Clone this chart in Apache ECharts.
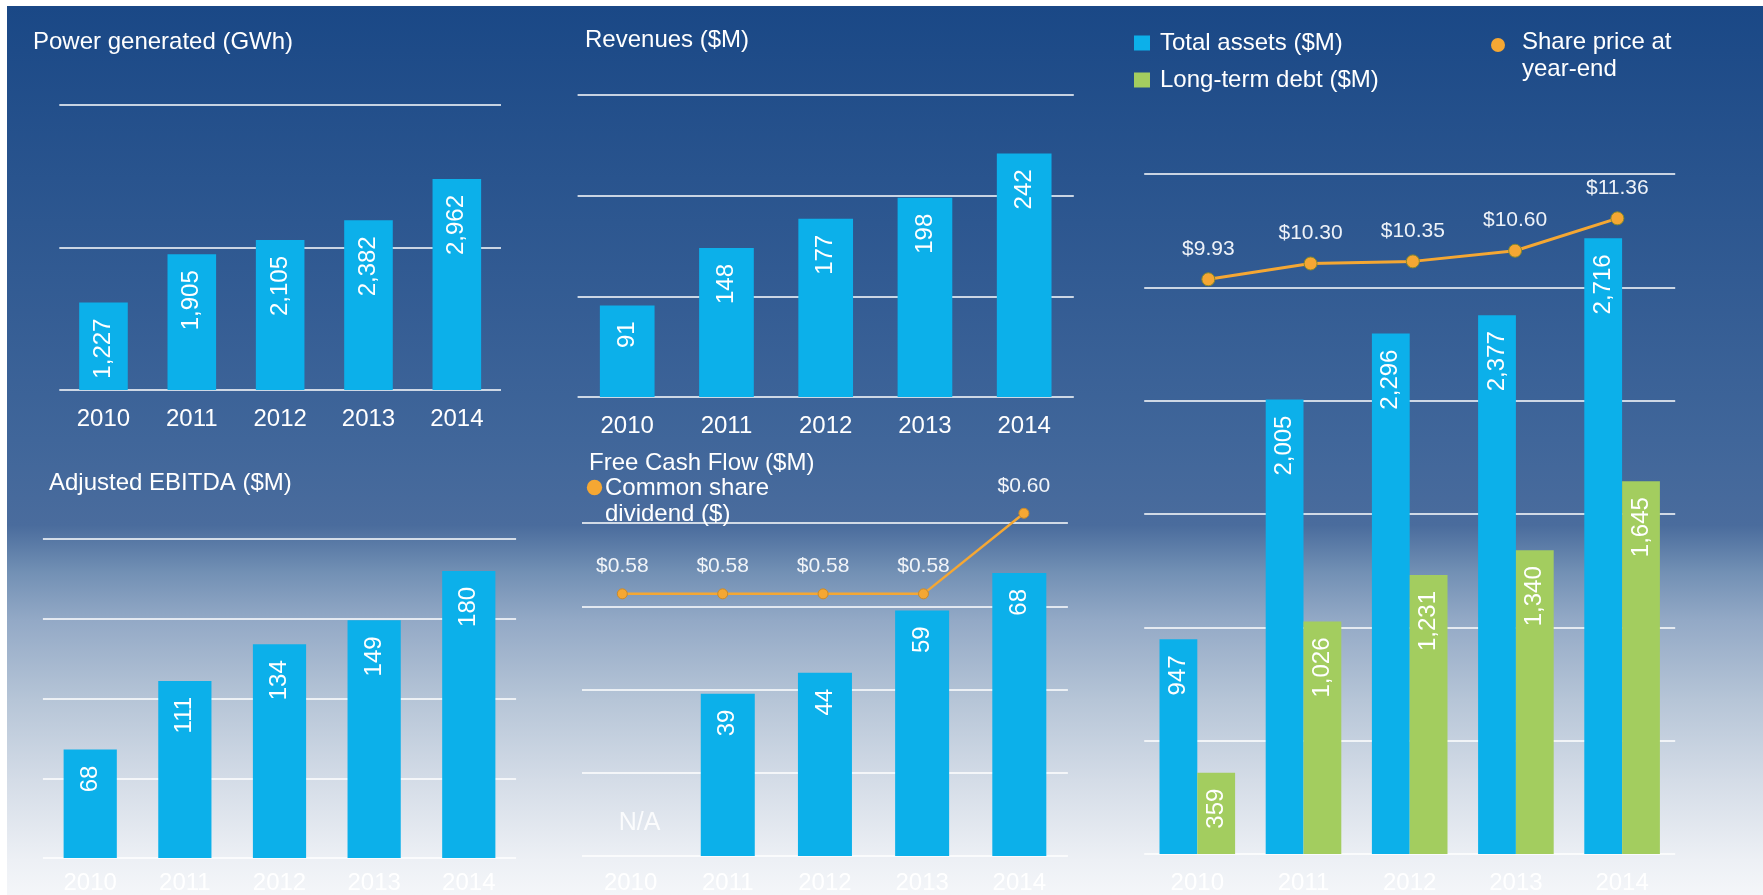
<!DOCTYPE html>
<html>
<head>
<meta charset="utf-8">
<title>Financial highlights 2010-2014</title>
<script src="https://cdn.jsdelivr.net/npm/echarts@6/dist/echarts.min.js"></script>
<style>
  html, body { margin: 0; padding: 0; background: #fff; }
  #main { width: 1763px; height: 895px; }
</style>
</head>
<body>
<div id="main"></div>
<script>
// data
const years = ['2010', '2011', '2012', '2013', '2014']
const powerGwh = [1227, 1905, 2105, 2382, 2962]
const revenues = [91, 148, 177, 198, 242]
const ebitda = [68, 111, 134, 149, 180]
const freeCashFlow = [null, 39, 44, 59, 68]   // 2010 = N/A
const dividend = [0.58, 0.58, 0.58, 0.58, 0.60]
const totalAssets = [947, 2005, 2296, 2377, 2716]
const longTermDebt = [359, 1026, 1231, 1340, 1645]
const sharePrice = [9.93, 10.30, 10.35, 10.60, 11.36]

const FONT = '"Liberation Sans", Arial, sans-serif'
const BLUE = '#0cb0ea'
const GREEN = '#a3cd5f'
const ORANGE = '#f5a733'
const GRIDLINE = 'rgba(255,255,255,0.75)'

const fmt = v => v.toLocaleString('en-US')

// rotated white label inside the top of a bar
function barLabel() {
  return {
    show: true,
    position: 'insideTop',
    rotate: 90,
    align: 'right',
    verticalAlign: 'middle',
    distance: 16,
    color: '#fff',
    fontSize: 24,
    fontFamily: FONT,
    formatter: p => fmt(p.value)
  }
}

function yearAxis(gridIndex, margin) {
  return {
    type: 'category', gridIndex: gridIndex, data: years,
    axisLine: { show: false }, axisTick: { show: false },
    axisLabel: { color: '#fff', fontSize: 24, fontFamily: FONT, margin: margin }
  }
}

function hiddenCat(gridIndex) {
  return { type: 'category', gridIndex: gridIndex, data: years, show: false }
}

function valueAxis(gridIndex, max, interval) {
  return {
    type: 'value', gridIndex: gridIndex, min: 0, max: max, interval: interval,
    axisLabel: { show: false }, axisLine: { show: false }, axisTick: { show: false },
    splitLine: { show: true, lineStyle: { color: GRIDLINE, width: 2 } }
  }
}

function hiddenValue(gridIndex, min, max) {
  return { type: 'value', gridIndex: gridIndex, min: min, max: max, show: false, splitLine: { show: false } }
}

const titleStyle = { color: '#fff', fontSize: 24, fontWeight: 'normal', fontFamily: FONT }

const fcfData = freeCashFlow.map(v => v === null
  ? { value: 0, label: { show: true, formatter: 'N/A', rotate: 0, position: 'top', align: 'center',
      verticalAlign: 'bottom', distance: 20, offset: [9, 0], fontSize: 25, color: 'rgba(255,255,255,0.85)' } }
  : v)

const option = {
  animation: false,
  textStyle: { fontFamily: FONT },
  title: [
    { text: 'Power generated (GWh)', left: 33, top: 30, padding: 0, textStyle: titleStyle },
    { text: 'Revenues ($M)', left: 585, top: 28, padding: 0, textStyle: titleStyle },
    { text: 'Adjusted EBITDA ($M)', left: 49, top: 471, padding: 0, textStyle: titleStyle },
    { text: 'Free Cash Flow ($M)', left: 589, top: 451, padding: 0, textStyle: titleStyle }
  ],
  legend: {
    data: ['Total assets ($M)', 'Long-term debt ($M)'],
    orient: 'vertical', left: 1134, top: 31, padding: 0,
    icon: 'rect', itemWidth: 16, itemHeight: 15, itemGap: 13,
    textStyle: { color: '#fff', fontSize: 24, fontFamily: FONT, padding: [0, 0, 0, 5] }
  },
  graphic: [
    {
      type: 'rect', z: -10, silent: true,
      shape: { x: 7, y: 6, width: 1756, height: 889 },
      style: {
        fill: new echarts.graphic.LinearGradient(0, 0, 0, 1, [
          { offset: 0, color: '#1a4886' },
          { offset: 0.488, color: '#40669a' },
          { offset: 0.584, color: '#4a6c9d' },
          { offset: 0.638, color: '#7391b5' },
          { offset: 0.691, color: '#93a9c6' },
          { offset: 0.781, color: '#b6c5d7' },
          { offset: 0.871, color: '#d4dce7' },
          { offset: 0.961, color: '#edf0f5' },
          { offset: 1, color: '#f4f6f9' }
        ])
      }
    },
    // share price legend
    { type: 'circle', shape: { cx: 1498, cy: 45, r: 7 }, style: { fill: ORANGE } },
    {
      type: 'text', left: 1522, top: 29,
      style: { text: 'Share price at\nyear-end', fill: '#fff', font: '24px ' + FONT, lineHeight: 27 }
    },
    // dividend legend
    { type: 'circle', shape: { cx: 594.5, cy: 487.5, r: 7.7 }, style: { fill: ORANGE } },
    {
      type: 'text', left: 605, top: 475,
      style: { text: 'Common share\ndividend ($)', fill: '#fff', font: '24px ' + FONT, lineHeight: 26 }
    }
  ],
  grid: [
    { left: 59.3, width: 441.7, top: 105, height: 285 },       // power
    { left: 577.6, width: 496.2, top: 95, height: 302 },       // revenues
    { left: 1144.2, width: 531, top: 174, height: 682 },       // assets / debt bars
    { left: 1157.2, width: 511.3, top: 174, height: 682 },     // share price line
    { left: 42.9, width: 473.2, top: 539, height: 321 },       // ebitda
    { left: 582, width: 485.9, top: 523, height: 336 },        // free cash flow
    { left: 572.1, width: 502, top: 473, height: 282 }         // dividend line
  ],
  xAxis: [
    yearAxis(0, 17),
    yearAxis(1, 17),
    yearAxis(2, 17),
    hiddenCat(3),
    yearAxis(4, 13),
    yearAxis(5, 15),
    hiddenCat(6)
  ],
  yAxis: [
    valueAxis(0, 4000, 2000),
    valueAxis(1, 300, 100),
    valueAxis(2, 3000, 500),
    hiddenValue(3, -3.6, 12.4),
    valueAxis(4, 200, 50),
    valueAxis(5, 80, 20),
    hiddenValue(6, 0.54, 0.61)
  ],
  series: [
    {
      name: 'Power generated (GWh)', type: 'bar', xAxisIndex: 0, yAxisIndex: 0,
      data: powerGwh, barWidth: 48.6, itemStyle: { color: BLUE }, label: barLabel()
    },
    {
      name: 'Revenues ($M)', type: 'bar', xAxisIndex: 1, yAxisIndex: 1,
      data: revenues, barWidth: 54.7, itemStyle: { color: BLUE }, label: barLabel()
    },
    {
      name: 'Total assets ($M)', type: 'bar', xAxisIndex: 2, yAxisIndex: 2,
      data: totalAssets, barWidth: 37.8, barGap: '0%', itemStyle: { color: BLUE }, label: barLabel()
    },
    {
      name: 'Long-term debt ($M)', type: 'bar', xAxisIndex: 2, yAxisIndex: 2,
      data: longTermDebt, barWidth: 37.8, barGap: '0%', itemStyle: { color: GREEN }, label: barLabel()
    },
    {
      name: 'Share price at year-end', type: 'line', xAxisIndex: 3, yAxisIndex: 3,
      data: sharePrice, symbol: 'circle', symbolSize: 13, z: 5,
      lineStyle: { color: ORANGE, width: 3 },
      itemStyle: { color: ORANGE, borderColor: '#8a8a2a', borderWidth: 1 },
      label: {
        show: true, position: 'top', distance: 13, color: '#eef2f8', fontSize: 21, fontFamily: FONT,
        formatter: p => '$' + p.value.toFixed(2)
      }
    },
    {
      name: 'Adjusted EBITDA ($M)', type: 'bar', xAxisIndex: 4, yAxisIndex: 4,
      data: ebitda, barWidth: 53.2, itemStyle: { color: BLUE }, label: barLabel()
    },
    {
      name: 'Free Cash Flow ($M)', type: 'bar', xAxisIndex: 5, yAxisIndex: 5,
      data: fcfData, barWidth: 54, itemStyle: { color: BLUE }, label: barLabel()
    },
    {
      name: 'Common share dividend ($)', type: 'line', xAxisIndex: 6, yAxisIndex: 6,
      data: dividend, symbol: 'circle', symbolSize: 10, z: 5,
      lineStyle: { color: ORANGE, width: 2.5 },
      itemStyle: { color: ORANGE, borderColor: '#c98a2a', borderWidth: 1 },
      label: {
        show: true, position: 'top', distance: 11.5, color: '#f2f5f9', fontSize: 21, fontFamily: FONT,
        formatter: p => '$' + p.value.toFixed(2)
      }
    }
  ]
}

const chart = echarts.init(document.getElementById('main'))
chart.setOption(option)
</script>
</body>
</html>
